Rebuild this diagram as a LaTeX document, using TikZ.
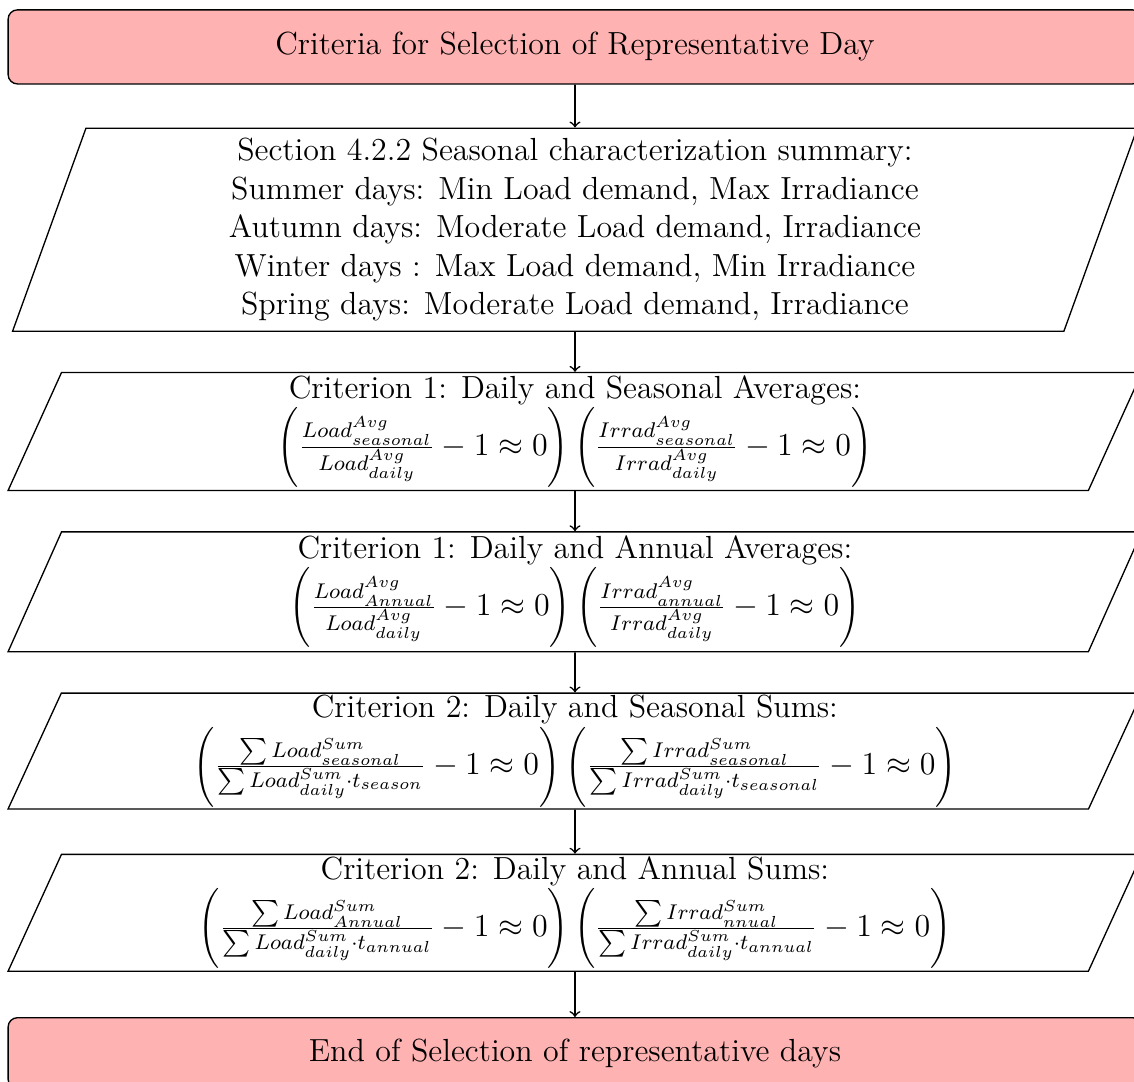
\documentclass[12pt,tikz,border=0pt]{standalone}
\usetikzlibrary{shapes.geometric, positioning}

\begin{document}
\begin{tikzpicture}[
    term/.style={rectangle, rounded corners=3.5pt, draw, line width=0.5pt, fill=red!30, minimum width=425.5pt, minimum height=27.8pt, inner sep=2pt},
    io/.style={trapezium, trapezium left angle=65, trapezium right angle=115, trapezium stretches body=true, draw, line width=0.5pt, minimum width=425.5pt, align=center, inner sep=0.5pt},
    arr/.style={->, line width=0.6pt}
  ]
    % page size as in the reference
    \useasboundingbox (-215.8pt,17.6pt) rectangle (209.8pt,-388.4pt);

    % start and summary
    \node[term] (start) at (0,0) {Criteria for Selection of Representative Day};
    \node[io, trapezium left angle=68.5, trapezium right angle=111.5, minimum width=422.1pt, minimum height=76.2pt, below=16.1pt of start] (summary) {Section 4.2.2 Seasonal characterization summary:\\
      Summer days: Min Load demand, Max Irradiance\\
      Autumn days: Moderate Load demand, Irradiance\\
      Winter days : Max Load demand, Min Irradiance\\
      Spring days: Moderate Load demand, Irradiance};

    % criteria
    \node[io, minimum height=44.3pt, below=15pt of summary] (seasavg) {Criterion 1: Daily and Seasonal Averages:\\
      $\Biggl(\frac{Load^{Avg}_{seasonal}}{Load^{Avg}_{daily}}-1\approx 0\Biggr)\,\Biggl(\frac{Irrad^{Avg}_{seasonal}}{Irrad^{Avg}_{daily}}-1\approx 0\Biggr)$};
    \node[io, minimum height=45pt, below=15pt of seasavg] (annavg) {Criterion 1: Daily and Annual Averages:\\
      $\Biggl(\frac{Load^{Avg}_{Annual}}{Load^{Avg}_{daily}}-1\approx 0\Biggr)\,\Biggl(\frac{Irrad^{Avg}_{annual}}{Irrad^{Avg}_{daily}}-1\approx 0\Biggr)$};
    \node[io, minimum height=43.5pt, below=15pt of annavg] (seassum) {Criterion 2: Daily and Seasonal Sums:\\
      $\Biggl(\frac{\sum Load^{Sum}_{seasonal}}{\sum Load^{Sum}_{daily}\cdot t_{season}}-1\approx 0\Biggr)\,\Biggl(\frac{\sum Irrad^{Sum}_{seasonal}}{\sum Irrad^{Sum}_{daily}\cdot t_{seasonal}}-1\approx 0\Biggr)$};
    \node[io, minimum height=43.9pt, below=16.5pt of seassum] (annsum) {Criterion 2: Daily and Annual Sums:\\
      $\Biggl(\frac{\sum Load^{Sum}_{Annual}}{\sum Load^{Sum}_{daily}\cdot t_{annual}}-1\approx 0\Biggr)\,\Biggl(\frac{\sum Irrad^{Sum}_{nnual}}{\sum Irrad^{Sum}_{daily}\cdot t_{annual}}-1\approx 0\Biggr)$};

    % end
    \node[term, minimum height=26.6pt, below=16.9pt of annsum] (stop) {End of Selection of representative days};

    % arrows
    \foreach \a/\b in {start/summary, summary/seasavg, seasavg/annavg, annavg/seassum, seassum/annsum, annsum/stop} {
      \draw[arr] (\a) -- (\b);
    }
  \end{tikzpicture}
\end{document}
